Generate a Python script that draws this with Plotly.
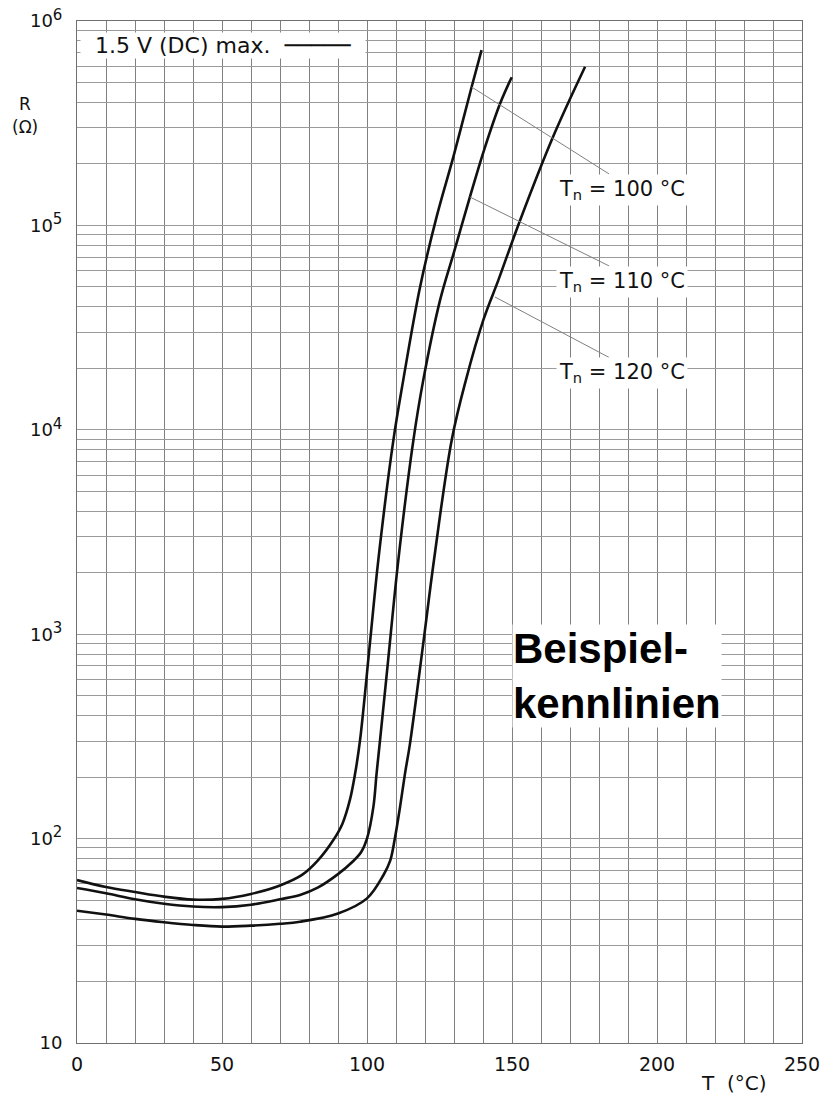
import plotly.graph_objects as go
import numpy as np

# ---- data ----
T_100 = [0, 10, 20, 30, 40, 50, 60, 70, 77.6, 83, 88.4, 91.5, 94.1, 95.9, 97.6, 101,
         103.9, 109.1, 112.5, 118.3, 124, 129.8, 136.1, 139.5]
R_100 = [62.7, 58, 54.8, 52, 50.3, 50.7, 53.6, 59, 66.4, 78, 98.4, 118, 154.6, 208, 303,
         902, 2306, 8900, 17500, 50000, 110000, 217000, 477000, 721000]

T_110 = [0, 10, 20, 30, 40, 50, 60, 70, 76.9, 83, 90, 95, 98, 100, 102.2, 103.3, 104.5,
         107.3, 110.8, 116, 119.4, 125.2, 130, 135.5, 140.5, 145.9, 149.9]
R_110 = [57.3, 54, 50.5, 48, 46.5, 46.2, 47.5, 50.5, 53, 57.5, 67, 77, 86, 100, 143, 208,
         303, 748, 2306, 8900, 17500, 43100, 74000, 138000, 237000, 395000, 531000]

T_120 = [0, 10, 20, 30, 40, 50, 60, 70, 76.9, 90, 100, 105.6, 108, 109.6, 111.4, 113.1,
         114.8, 119.4, 123.1, 129.2, 134.1, 140.1, 145.3, 152.8, 164.2, 175.2]
R_120 = [44.4, 42.5, 40.5, 39, 37.8, 37.1, 37.5, 38.3, 39.2, 43, 51, 66, 78, 100, 143, 208,
         290, 902, 2306, 8900, 17500, 34400, 54000, 106000, 272000, 597000]

curve_names = ["T<sub>n</sub> = 100 °C", "T<sub>n</sub> = 110 °C", "T<sub>n</sub> = 120 °C"]
x_ticks = list(range(0, 251, 10))
x_ticktext = [str(v) if v % 50 == 0 else "" for v in x_ticks]
y_ticks = [m * 10 ** d for d in range(1, 6) for m in range(1, 10)] + [10 ** 6]
y_ticktext = []
for v in y_ticks:
    lg = np.log10(v)
    if abs(lg - round(lg)) < 1e-9:
        n = int(round(lg))
        y_ticktext.append("10" if n == 1 else f"10<sup><span style='font-size:15px'>{n}</span></sup>")
    else:
        y_ticktext.append("")

FONT = "DejaVu Sans, Arial, sans-serif"
BOLD = "Liberation Sans, Arial, Helvetica, sans-serif"
TXT = "#111111"

fig = go.Figure()
for T, R, nm in [(T_100, R_100, curve_names[0]), (T_110, R_110, curve_names[1]),
                 (T_120, R_120, curve_names[2])]:
    fig.add_trace(go.Scatter(x=T, y=R, mode="lines", name=nm,
                             line=dict(color="#111111", width=2.6, shape="spline", smoothing=1.0),
                             showlegend=False, hoverinfo="skip"))

# leader lines (curve point -> label corner) and labels
leaders = [((136.1, 5.677), (184, 5.247), (165.2, 5.173)),
           ((135.5, 5.139), (184, 4.798), (165.2, 4.725)),
           ((144.1, 4.650), (184, 4.350), (165.2, 4.278))]
for (p0, p1, lab), nm in zip(leaders, curve_names):
    fig.add_annotation(x=p0[0], y=p0[1], ax=p1[0], ay=p1[1], axref="x", ayref="y",
                       xref="x", yref="y", text="", showarrow=True, arrowhead=0,
                       arrowwidth=1, arrowcolor="#808080", standoff=0, startstandoff=0)
    fig.add_annotation(x=lab[0], y=lab[1], xref="x", yref="y", xanchor="left", yanchor="middle",
                       text=nm, showarrow=False,
                       font=dict(family=FONT, size=21, color=TXT),
                       bgcolor="white", borderpad=2)

# legend-like box
fig.add_annotation(xref="paper", yref="paper", x=0.004, y=(1043 - 46) / 1022,
                   yanchor="middle", xanchor="left",
                   text="  1.5 V (DC) max.  ─────  ", showarrow=False,
                   font=dict(family=FONT, size=22, color=TXT),
                   bgcolor="white", borderpad=0)

# Beispielkennlinien
fig.add_annotation(x=150, y=2.795, xref="x", yref="y", xanchor="left", yanchor="middle",
                   align="left", text="<b>Beispiel-<br>kennlinien</b>", showarrow=False,
                   font=dict(family=BOLD, size=42, color="black"), bgcolor="white", borderpad=0)

# axis titles
fig.add_annotation(xref="paper", yref="paper", x=-0.072, y=(1043 - 104) / 1022, text="R",
                   xanchor="center", yanchor="middle", showarrow=False,
                   font=dict(family=FONT, size=17, color=TXT))
fig.add_annotation(xref="paper", yref="paper", x=-0.072, y=(1043 - 127) / 1022, text="(Ω)",
                   xanchor="center", yanchor="middle", showarrow=False,
                   font=dict(family=FONT, size=17, color=TXT))
fig.add_annotation(xref="paper", yref="paper", x=(734 - 77) / 725, y=(1043 - 1083) / 1022,
                   text="T  (°C)", xanchor="center", yanchor="middle", showarrow=False,
                   font=dict(family=FONT, size=20, color=TXT))

fig.update_xaxes(range=[0, 250], tickmode="array", tickvals=x_ticks, ticktext=x_ticktext,
                 showgrid=True, gridcolor="#808080", gridwidth=1, zeroline=False,
                 showline=True, linecolor="#707070", mirror=True, ticks="",
                 ticklabelstandoff=4, automargin=False,
                 tickfont=dict(family=FONT, size=19, color=TXT))
fig.update_yaxes(type="log", range=[1, 6], tickmode="array", tickvals=y_ticks, ticktext=y_ticktext,
                 showgrid=True, gridcolor="#9a9a9a", gridwidth=1, zeroline=False,
                 showline=True, linecolor="#707070", mirror=True, ticks="",
                 ticklabelstandoff=10, automargin=False,
                 tickfont=dict(family=FONT, size=18, color=TXT))

fig.update_layout(width=826, height=1095, margin=dict(l=77, r=24, t=21, b=52),
                  paper_bgcolor="white", plot_bgcolor="white", showlegend=False)

fig.write_html("out.html")
